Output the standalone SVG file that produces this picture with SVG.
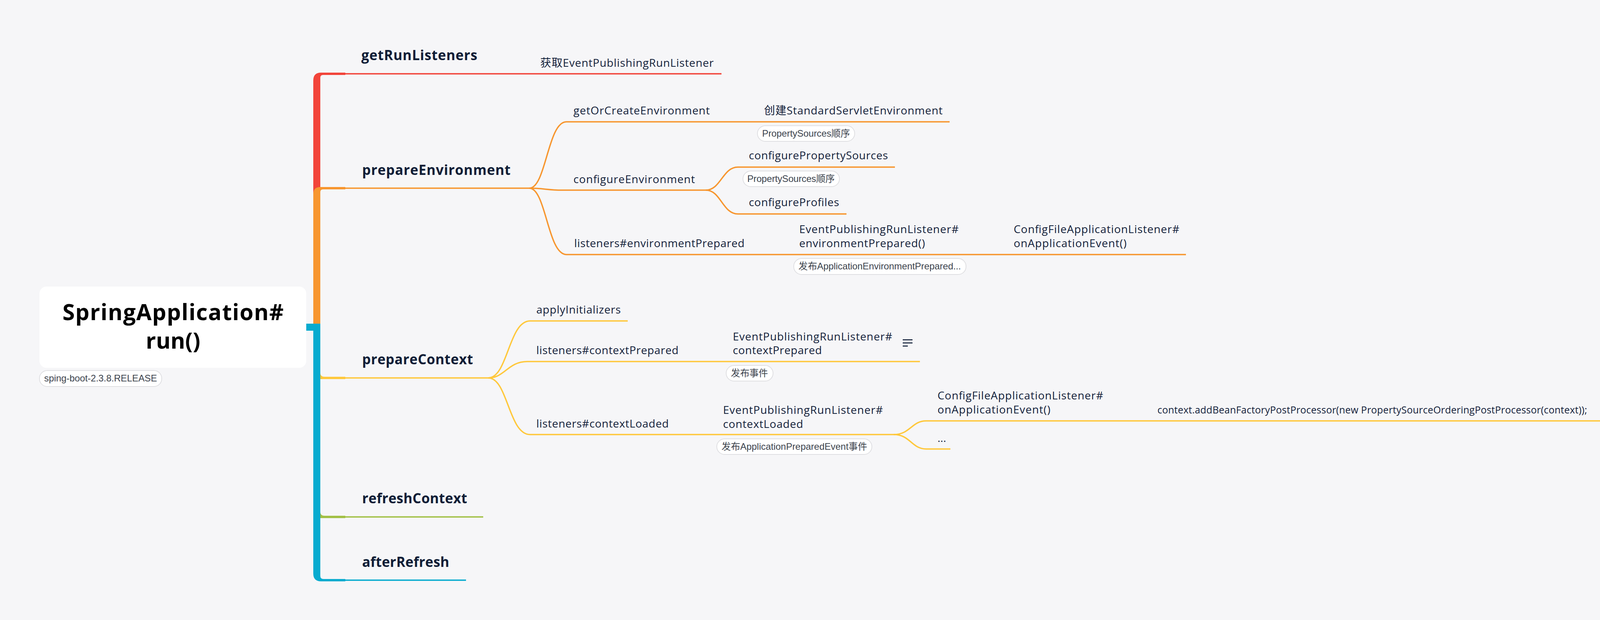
<svg xmlns="http://www.w3.org/2000/svg" width="4378" height="1588" viewBox="0 0 4378 1588">
<style>
.n{font-family:"Open Sans","Noto Sans CJK SC",sans-serif;font-size:28px;fill:#13213A;}
.m{font-family:"Open Sans","Noto Sans CJK SC",sans-serif;font-size:35px;font-weight:700;fill:#0F1D36;}
.root{font-family:"Open Sans",sans-serif;font-size:57px;font-weight:700;fill:#000;}
.pill{fill:#fff;stroke:#dfdfe2;stroke-width:2;}
.pt{font-family:"Liberation Sans","Noto Sans CJK SC",sans-serif;font-size:24px;fill:#3C434D;}
.lo{fill:none;stroke:#F7962F;stroke-width:3.5;}
.ly{fill:none;stroke:#FFC83C;stroke-width:3.5;}
</style>
<rect x="0" y="0" width="4378" height="1588" fill="#F6F6F8"/>

<g id="connectors">
  <!-- main branches -->
  <path fill="#F2443A" d="M802 838 L802 206 Q802 186 822 186 L884 186 L884 192 L827 192 Q820 192 820 199 L820 838 Z"/>
  <line x1="884" y1="189" x2="1847" y2="189" stroke="#F2443A" stroke-width="3.5"/>
  <path fill="#F7962F" d="M802 838 L802 497 Q802 479 820 479 L884 479 L884 485 L827 485 Q820 485 820 492 L820 838 Z"/>
  <line x1="884" y1="482" x2="1357" y2="482" stroke="#F7962F" stroke-width="3.5"/>
  <path fill="#FFC83C" d="M802 838 L820 838 L820 955 Q820 965 831 965 L884 965 L884 971 L802 971 Z"/>
  <line x1="884" y1="968" x2="1252" y2="968" stroke="#FFC83C" stroke-width="3.5"/>
  <path fill="#A2C045" d="M802 838 L820 838 L820 1311 Q820 1321 831 1321 L884 1321 L884 1327 L802 1327 Z"/>
  <line x1="884" y1="1324" x2="1237" y2="1324" stroke="#A2C045" stroke-width="3.5"/>
  <path fill="#07ABCF" d="M784 829 L820 829 L820 1475 Q820 1483 828 1483 L884 1483 L884 1489 L822 1489 Q802 1489 802 1469 L802 847 L784 847 Z"/>
  <line x1="884" y1="1486" x2="1193" y2="1486" stroke="#07ABCF" stroke-width="3.5"/>

  <!-- prepareEnvironment subtree -->
  <path class="lo" d="M1355 482 C1398 482 1402 312 1450 312 L2431 312"/>
  <path class="lo" d="M1355 482 C1392 482 1400 487 1440 487 L1809 487"/>
  <path class="lo" d="M1355 482 C1398 482 1402 652 1450 652 L3036 652"/>
  <path class="lo" d="M1807 487 C1845 487 1850 428 1889 428 L2291 428"/>
  <path class="lo" d="M1807 487 C1845 487 1850 548 1889 548 L2167 548"/>

  <!-- prepareContext subtree -->
  <path class="ly" d="M1250 968 C1300 968 1302 822 1357 822 L1607 822"/>
  <path class="ly" d="M1250 968 C1292 968 1300 926 1350 926 L2355 926"/>
  <path class="ly" d="M1250 968 C1300 968 1302 1113 1357 1113 L2290 1113"/>
  <path class="ly" d="M2288 1113 C2330 1113 2334 1078 2371 1078 L4278 1078"/>
  <path class="ly" d="M2288 1113 C2330 1113 2334 1150 2371 1150 L2433 1150"/>
</g>

<g id="root">
  <rect x="101" y="734" width="683" height="208" rx="18" fill="#fff"/>
  <text class="root" x="443" y="820" text-anchor="middle" textLength="566">SpringApplication#</text>
  <text class="root" x="443" y="893" text-anchor="middle">run()</text>
</g>
<g id="root-label">
  <rect class="pill" x="101" y="949" width="313" height="41" rx="20"/>
  <text class="pt" x="113" y="977" textLength="289">sping-boot-2.3.8.RELEASE</text>
</g>

<g id="getRunListeners">
  <text class="m" x="925" y="154" textLength="297">getRunListeners</text>
</g>
<g id="getEventPublishingRunListener">
  <text class="n" x="1383" y="171" textLength="444">获取EventPublishingRunListener</text>
</g>

<g id="prepareEnvironment">
  <text class="m" x="927" y="448" textLength="380">prepareEnvironment</text>
</g>
<g id="getOrCreateEnvironment">
  <text class="n" x="1468" y="293" textLength="349">getOrCreateEnvironment</text>
</g>
<g id="createStandardServletEnvironment">
  <text class="n" x="1956" y="293" textLength="457">创建StandardServletEnvironment</text>
  <rect class="pill" x="1939" y="322" width="249" height="40" rx="20"/>
  <text class="pt" x="1951" y="350" textLength="225">PropertySources顺序</text>
</g>
<g id="configureEnvironment">
  <text class="n" x="1468" y="469" textLength="311">configureEnvironment</text>
</g>
<g id="configurePropertySources">
  <text class="n" x="1917" y="408" textLength="356">configurePropertySources</text>
  <rect class="pill" x="1902" y="438" width="247" height="40" rx="20"/>
  <text class="pt" x="1913" y="466" textLength="224">PropertySources顺序</text>
</g>
<g id="configureProfiles">
  <text class="n" x="1917" y="528" textLength="231">configureProfiles</text>
</g>
<g id="listenersEnvironmentPrepared">
  <text class="n" x="1470" y="633" textLength="436">listeners#environmentPrepared</text>
</g>
<g id="eprlEnvironmentPrepared">
  <text class="n" x="2046" y="597" textLength="408">EventPublishingRunListener#</text>
  <text class="n" x="2046" y="633" textLength="322">environmentPrepared()</text>
  <rect class="pill" x="2032" y="662" width="441" height="41" rx="20"/>
  <text class="pt" x="2044" y="690" textLength="416">发布ApplicationEnvironmentPrepared...</text>
</g>
<g id="cfalOnApplicationEvent1">
  <text class="n" x="2595" y="597" textLength="424">ConfigFileApplicationListener#</text>
  <text class="n" x="2595" y="633" textLength="289">onApplicationEvent()</text>
</g>

<g id="prepareContext">
  <text class="m" x="927" y="933" textLength="284">prepareContext</text>
</g>
<g id="applyInitializers">
  <text class="n" x="1373" y="803" textLength="216">applyInitializers</text>
</g>
<g id="listenersContextPrepared">
  <text class="n" x="1373" y="907" textLength="364">listeners#contextPrepared</text>
</g>
<g id="eprlContextPrepared">
  <text class="n" x="1876" y="872" textLength="408">EventPublishingRunListener#</text>
  <text class="n" x="1876" y="907" textLength="228">contextPrepared</text>
  <g fill="#13213A">
    <rect x="2311" y="869" width="25" height="2.6"/>
    <rect x="2311" y="877" width="25" height="2.6"/>
    <rect x="2311" y="885" width="13" height="2.6"/>
  </g>
  <rect class="pill" x="1859" y="936" width="120" height="40" rx="20"/>
  <text class="pt" x="1871" y="964" textLength="95">发布事件</text>
</g>
<g id="listenersContextLoaded">
  <text class="n" x="1373" y="1095" textLength="339">listeners#contextLoaded</text>
</g>
<g id="eprlContextLoaded">
  <text class="n" x="1851" y="1060" textLength="409">EventPublishingRunListener#</text>
  <text class="n" x="1851" y="1096" textLength="205">contextLoaded</text>
  <rect class="pill" x="1835" y="1124" width="397" height="40" rx="20"/>
  <text class="pt" x="1847" y="1152" textLength="373">发布ApplicationPreparedEvent事件</text>
</g>
<g id="cfalOnApplicationEvent2">
  <text class="n" x="2400" y="1023" textLength="424">ConfigFileApplicationListener#</text>
  <text class="n" x="2400" y="1059" textLength="289">onApplicationEvent()</text>
</g>
<g id="addBeanFactoryPostProcessor">
  <text class="n" x="2963" y="1059" style="font-size:25px" textLength="1100">context.addBeanFactoryPostProcessor(new PropertySourceOrderingPostProcessor(context));</text>
</g>
<g id="ellipsis">
  <text class="n" x="2400" y="1132">...</text>
</g>

<g id="refreshContext">
  <text class="m" x="927" y="1289" textLength="269">refreshContext</text>
</g>
<g id="afterRefresh">
  <text class="m" x="927" y="1452" textLength="223">afterRefresh</text>
</g>
</svg>
